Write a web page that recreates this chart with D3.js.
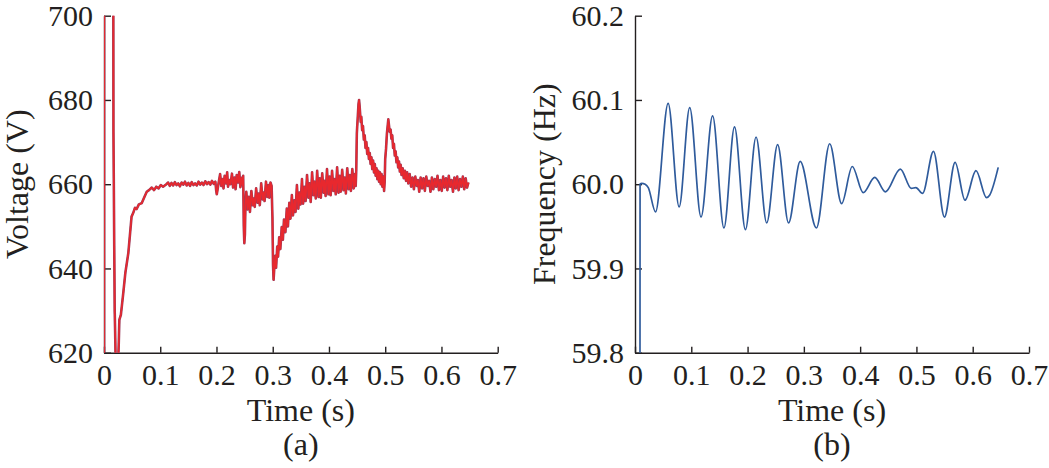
<!DOCTYPE html>
<html>
<head>
<meta charset="utf-8">
<script src="https://cdn.jsdelivr.net/npm/d3@7"></script>
<style>
  body { margin:0; background:#fff; }
  svg { display:block; }
  .tick text { font-family:"Liberation Serif","Times New Roman",serif; font-size:30px; fill:#231f20; }
  .tick line, .domain { stroke:#231f20; stroke-width:1.4; }
  .lbl { font-family:"Liberation Serif","Times New Roman",serif; font-size:32px; fill:#231f20; }
</style>
</head>
<body>
<svg id="chart" width="1049" height="468"></svg>
<script>
// time axis ticks (both panels)
var timeTicks=[0,0.1,0.2,0.3,0.4,0.5,0.6,0.7];
var voltTicks=[620,640,660,680,700];
var freqTicks=[59.8,59.9,60.0,60.1,60.2];

// (a) voltage trace: [time s, volts]
var voltage=[
  [0,560],[0.0004,760],[0.016,760],[0.0166,700],[0.0168,672.5],[0.019,630],[0.0198,625],[0.0207,618],
  [0.023,612],[0.025,617],[0.0262,622],[0.0273,627.8],[0.030,629],[0.0343,634.2],[0.038,639],[0.0432,643.6],
  [0.049,652.3],[0.052,653.2],[0.055,654.4],[0.058,654.1],[0.062,655.2],[0.067,655.5],[0.072,657],[0.076,658.2],
  [0.080,658.6],[0.085,659.2],[0.089,658.6],[0.093,659.4],[0.097,659.0],[0.101,659.8],[0.105,659.4],[0.111,660.0],
  [0.114,660.4],[0.117,659.6],[0.120,660.3],[0.123,659.7],[0.126,660.5],[0.129,659.8],[0.132,660.2],[0.135,659.5],
  [0.138,660.4],[0.141,659.9],[0.144,660.6],[0.147,659.7],[0.150,660.3],[0.153,659.6],[0.156,660.5],[0.159,659.8],
  [0.162,660.2],[0.165,659.7],[0.168,660.6],[0.171,659.9],[0.174,660.4],[0.177,659.8],[0.180,660.7],[0.183,660.0],
  [0.186,660.5],[0.189,659.9],[0.192,660.8],[0.195,660.1],[0.198,660.6],[0.1995,658.5],[0.2005,657.6],[0.202,658.8],
  [0.204,660.5],[0.2065,662.4],[0.2085,659.6],[0.211,661.2],[0.2125,659.0],[0.2145,662.0],[0.217,660.2],[0.219,662.8],
  [0.2205,659.4],[0.223,661.0],[0.225,660.0],[0.2275,662.5],[0.2295,659.2],[0.232,661.6],[0.234,658.8],[0.236,662.2],
  [0.2385,660.4],[0.2405,662.9],[0.2425,659.3],[0.2445,661.5],[0.2465,659.8],[0.2475,662.0],
  [0.2485,650],[0.2495,646],[0.2505,648],[0.2515,655],
  [0.253,658.2],[0.2555,654.0],[0.2575,657.0],[0.2595,653.4],[0.262,658.4],[0.2645,655.0],[0.266,656.6],[0.268,654.6],
  [0.2705,659.0],[0.273,655.6],[0.275,657.8],[0.277,655.0],[0.2795,660.2],[0.282,656.4],[0.284,658.0],[0.2855,656.0],
  [0.288,660.6],[0.2905,657.0],[0.2925,659.8],[0.294,656.8],[0.296,660.4],[0.298,659.6],
  [0.2995,652],[0.3005,641],[0.3015,637.3],[0.3025,639.5],[0.3045,643.0],[0.306,640.2],[0.308,645.2],[0.3095,642.8],
  [0.3115,647.4],[0.3135,644.6],[0.316,649.8],[0.318,646.8],[0.320,651.6],[0.3225,648.6],[0.325,654.2],[0.327,650.0],
  [0.3295,655.6],[0.3315,651.8],[0.334,657.4],[0.336,652.6],[0.3385,656.2],[0.3405,653.4],[0.343,659.8],[0.3455,654.2],
  [0.3475,658.0],[0.3495,655.2],[0.352,661.2],[0.354,655.4],[0.3565,659.4],[0.3585,656.0],[0.361,662.2],[0.3635,656.8],
  [0.3655,660.2],[0.3675,655.8],[0.370,662.8],[0.3725,657.4],[0.3745,660.6],[0.3765,656.6],[0.379,663.2],[0.3815,657.0],
  [0.3835,661.4],[0.3855,656.8],[0.388,662.6],[0.3905,658.0],[0.392,660.8],[0.394,657.2],[0.3965,663.6],[0.399,657.6],
  [0.401,661.8],[0.403,657.4],[0.4055,663.2],[0.408,658.4],[0.410,661.2],[0.412,657.6],[0.4145,664.0],[0.417,658.0],
  [0.419,662.0],[0.421,658.2],[0.4235,663.4],[0.426,658.6],[0.428,661.6],[0.430,657.8],[0.4325,663.8],[0.435,658.8],
  [0.437,662.2],[0.439,658.4],[0.4415,663.6],[0.444,659.0],[0.446,662.4],[0.4475,659.6],[0.4485,663.2],
  [0.4495,672],[0.451,675.5],[0.4525,679],[0.4535,680],[0.4545,678.5],[0.4555,676.6],[0.4565,674.8],[0.4575,676.0],
  [0.459,672.8],[0.4605,673.8],[0.462,670.6],[0.4635,671.6],[0.465,668.6],[0.4665,670.0],[0.468,667.2],[0.4695,668.6],
  [0.471,666.0],[0.4725,667.4],[0.474,664.8],[0.4755,666.4],[0.477,663.6],[0.4785,665.6],[0.480,662.8],[0.4815,664.8],
  [0.483,662.0],[0.4845,663.8],[0.486,661.2],[0.4875,663.2],[0.489,660.6],[0.4905,662.8],[0.492,660.0],[0.4935,662.4],
  [0.495,659.4],[0.4965,661.8],[0.498,658.4],[0.499,660.5],
  [0.500,666],[0.5015,668.5],[0.503,672],[0.5045,674],[0.5055,675.4],[0.5065,674.2],[0.508,672.4],[0.5095,673.0],
  [0.511,670.8],[0.5125,671.6],[0.514,668.6],[0.5155,669.6],[0.517,666.8],[0.5185,667.8],[0.520,665.2],[0.5215,666.4],
  [0.523,664.0],[0.5245,665.4],[0.526,663.0],[0.5275,664.6],[0.529,662.2],[0.531,663.8],[0.533,661.4],[0.535,663.2],
  [0.537,660.8],[0.539,662.8],[0.541,660.2],[0.5435,662.4],[0.546,659.4],[0.5485,661.6],[0.551,658.8],[0.5535,661.8],
  [0.556,659.6],[0.558,661.0],[0.5605,658.2],[0.563,661.6],[0.5655,659.0],[0.568,661.4],[0.5705,658.4],[0.573,661.8],
  [0.5755,659.6],[0.578,660.8],[0.5805,658.2],[0.583,661.6],[0.5855,658.8],[0.588,661.2],[0.5905,659.4],[0.593,662.0],
  [0.5955,658.6],[0.598,661.0],[0.6005,658.4],[0.603,661.8],[0.6055,659.2],[0.608,661.4],[0.6105,658.6],[0.613,662.0],
  [0.6155,659.4],[0.618,661.0],[0.6205,658.2],[0.623,661.6],[0.6255,659.0],[0.628,661.8],[0.6305,658.6],[0.633,661.2],
  [0.6355,659.4],[0.638,661.8],[0.6405,658.8],[0.643,661.4],[0.6455,659.2],[0.648,660.4]
];

// (b) frequency trace, peaks and troughs: [time s, Hz]
var frequency=[
  [0.0088,59.70],[0.0090,60.000],[0.012,60.001],[0.018,60.000],[0.0236,59.996],[0.0365,59.967],[0.0589,60.096],
  [0.0784,59.973],[0.0972,60.091],[0.1173,59.961],[0.1379,60.081],[0.158,59.948],[0.1768,60.068],[0.1962,59.946],
  [0.2151,60.056],[0.234,59.954],[0.2534,60.047],[0.2728,59.954],[0.2935,60.027],[0.3223,59.948],[0.3459,60.048],
  [0.3671,59.977],[0.386,60.021],[0.4054,59.990],[0.426,60.008],[0.4449,59.991],[0.4714,60.018],[0.4909,59.995],
  [0.499,59.996],[0.5109,59.989],[0.5303,60.039],[0.5498,59.961],[0.5687,60.026],[0.5863,59.981],[0.6058,60.016],
  [0.6246,59.984],[0.630,59.987],[0.6453,60.020]
];

var svg=d3.select('#chart');
var plotTop=15.7, plotBottom=352.7;

function panel(id,left,right,yDomain,yTicks,yFmt,yLabel,labelX,caption){
  var g=svg.append('g').attr('id',id);
  var x=d3.scaleLinear().domain([0,0.7]).range([left,right]);
  var y=d3.scaleLinear().domain(yDomain).range([plotBottom,plotTop]);

  g.append('clipPath').attr('id','clip-'+id)
    .append('rect').attr('x',left).attr('y',plotTop).attr('width',right-left).attr('height',plotBottom-plotTop);

  g.append('g')
    .attr('transform','translate(0,'+plotBottom+')')
    .call(d3.axisBottom(x).tickValues(timeTicks).tickFormat(function(d){return d==0?'0':d3.format('.1f')(d);})
      .tickSizeInner(-6).tickSizeOuter(0).tickPadding(11));
  g.append('g')
    .attr('transform','translate('+left+',0)')
    .call(d3.axisLeft(y).tickValues(yTicks).tickFormat(yFmt)
      .tickSizeInner(-7).tickSizeOuter(0).tickPadding(11));

  g.append('text').attr('class','lbl')
    .attr('x',(left+right)/2).attr('y',421).attr('text-anchor','middle').text('Time (s)');
  g.append('text').attr('class','lbl')
    .attr('x',(left+right)/2).attr('y',455).attr('text-anchor','middle').text(caption);
  g.append('text').attr('class','lbl')
    .attr('transform','translate('+labelX+','+((plotTop+plotBottom)/2)+') rotate(-90)')
    .attr('text-anchor','middle').text(yLabel);

  return {g:g,x:x,y:y,clip:'url(#clip-'+id+')'};
}

var pa=panel('a',104,497.7,[620,700],voltTicks,d3.format('d'),'Voltage (V)',28,'(a)');
var pb=panel('b',635,1029,[59.8,60.2],freqTicks,d3.format('.1f'),'Frequency (Hz)',555,'(b)');

var lineA=d3.line().x(function(d){return pa.x(d[0]);}).y(function(d){return pa.y(d[1]);});
pa.g.append('path').datum(voltage)
  .attr('clip-path',pa.clip)
  .attr('d',lineA).attr('fill','none').attr('stroke','#9a3d5c').attr('stroke-width',2.6)
  .attr('stroke-linejoin','round');
pa.g.append('path').datum(voltage)
  .attr('clip-path',pa.clip)
  .attr('d',lineA).attr('fill','none').attr('stroke','#e8282e').attr('stroke-width',1.6)
  .attr('stroke-linejoin','round');

var lineB=d3.line().curve(d3.curveMonotoneX)
  .x(function(d){return pb.x(d[0]);}).y(function(d){return pb.y(d[1]);});
pb.g.append('path').datum(frequency)
  .attr('clip-path',pb.clip)
  .attr('d',lineB).attr('fill','none').attr('stroke','#2f5b9c').attr('stroke-width',1.7);
</script>
</body>
</html>
